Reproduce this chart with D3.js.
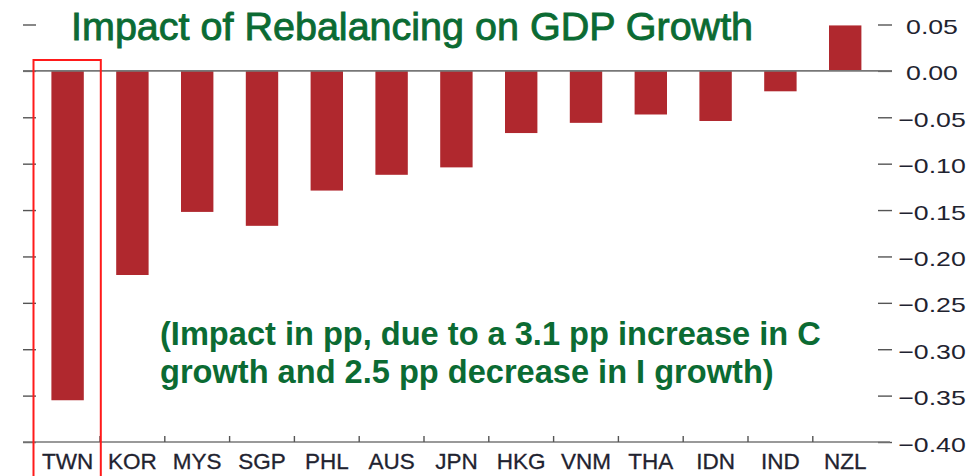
<!DOCTYPE html>
<html>
<head>
<meta charset="utf-8">
<script src="https://cdn.jsdelivr.net/npm/d3@7"></script>
<style>
  html, body { margin: 0; padding: 0; background: #ffffff; }
  svg { display: block; }
</style>
</head>
<body>
<svg id="chart" width="973" height="476"></svg>
<script>
const categories = ["TWN", "KOR", "MYS", "SGP", "PHL", "AUS", "JPN", "HKG", "VNM", "THA", "IDN", "IND", "NZL"];
const impact = [-0.355, -0.220, -0.152, -0.167, -0.129, -0.112, -0.104, -0.067, -0.056, -0.047, -0.054, -0.022, 0.049];
const yTicks = [0.05, 0.00, -0.05, -0.10, -0.15, -0.20, -0.25, -0.30, -0.35, -0.40];
const titleText = "Impact of Rebalancing on GDP Growth";
const noteLines = ["(Impact in pp, due to a 3.1 pp increase in C", "growth and 2.5 pp decrease in I growth)"];
const highlighted = "TWN";

const svg = d3.select("#chart");
const green = "#0b6b33";
const barColor = "#b0282e";
const lineColor = "#777777";
const textColor = "#1f2330";
const fontFamily = "'Liberation Sans', Arial, Helvetica, sans-serif";

const plotLeft = 23, plotRight = 892;
const x = d3.scaleBand().domain(categories).range([35.2, 877.6]).paddingInner(0.5).paddingOuter(0.25);
const y = d3.scaleLinear().domain([-0.40, 0.05]).range([442, 24.5]);

// bars
svg.append("g").selectAll("rect").data(categories).join("rect")
  .attr("x", d => x(d))
  .attr("width", x.bandwidth())
  .attr("y", (d, i) => y(Math.max(0, impact[i])))
  .attr("height", (d, i) => Math.abs(y(impact[i]) - y(0)))
  .attr("fill", barColor);

// left axis: tick marks only
const leftAxis = d3.axisLeft(y).tickValues(yTicks).tickSize(13).tickFormat("");
svg.append("g").attr("transform", `translate(36,0)`).call(leftAxis)
  .call(g => g.select(".domain").remove())
  .call(g => g.selectAll("line").attr("stroke", "#555").attr("stroke-width", 1.4));

// right axis: ticks + labels
const fmt = v => (v < 0 ? "\u2212" : "") + Math.abs(v).toFixed(2);
const rightAxis = d3.axisRight(y).tickValues(yTicks).tickSize(14).tickFormat(fmt);
svg.append("g").attr("transform", `translate(878,0)`).call(rightAxis)
  .call(g => g.select(".domain").remove())
  .call(g => g.selectAll("line").attr("stroke", "#555").attr("stroke-width", 1.4))
  .call(g => g.selectAll("text")
    .attr("x", 0)
    .attr("dy", "0.43em")
    .attr("text-anchor", "middle")
    .attr("transform", "translate(54,0) scale(1.27,1)")
    .attr("fill", textColor)
    .attr("font-family", fontFamily)
    .attr("font-size", 21));

// zero line
svg.append("line").attr("x1", plotLeft).attr("x2", plotRight)
  .attr("y1", y(0)).attr("y2", y(0))
  .attr("stroke", lineColor).attr("stroke-width", 1.6);

// bottom axis with inner tick marks pointing up
const bottomAxis = d3.axisBottom(x).tickSize(0).tickSizeOuter(0);
const gx = svg.append("g").attr("transform", `translate(0,${y(-0.40)})`).call(bottomAxis);
gx.select(".domain").remove();
gx.selectAll("text")
  .attr("y", 0).attr("dy", 27)
  .attr("fill", textColor)
  .attr("stroke", textColor).attr("stroke-width", 0.3)
  .attr("font-family", fontFamily)
  .attr("font-size", 22.5);
svg.append("line").attr("x1", plotLeft).attr("x2", plotRight - 2)
  .attr("y1", y(-0.40)).attr("y2", y(-0.40))
  .attr("stroke", lineColor).attr("stroke-width", 1.6);
svg.append("g").selectAll("line").data(categories.slice(1)).join("line")
  .attr("x1", d => x(d) - x.step() * x.paddingInner() / 2)
  .attr("x2", d => x(d) - x.step() * x.paddingInner() / 2)
  .attr("y1", y(-0.40)).attr("y2", y(-0.40) - 6)
  .attr("stroke", "#555").attr("stroke-width", 1.4);

// highlight box
const hx0 = x(highlighted) - x.step() * x.paddingInner() / 2 - 1.7;
svg.append("rect")
  .attr("x", hx0).attr("y", 60)
  .attr("width", x.step() + 2.5).attr("height", 430)
  .attr("fill", "none").attr("stroke", "#ff1a1a").attr("stroke-width", 2);

// title
svg.append("text")
  .attr("x", 71).attr("y", 39.5)
  .attr("fill", green)
  .attr("stroke", green).attr("stroke-width", 0.9)
  .attr("font-family", fontFamily)
  .attr("font-size", 39.5)
  .text(titleText);

// annotation
svg.append("g").selectAll("text").data(noteLines).join("text")
  .attr("x", 160).attr("y", (d, i) => 344.5 + i * 38)
  .attr("fill", green)
  .attr("font-family", fontFamily)
  .attr("font-weight", "bold")
  .attr("font-size", 32.6)
  .text(d => d);
</script>
</body>
</html>
